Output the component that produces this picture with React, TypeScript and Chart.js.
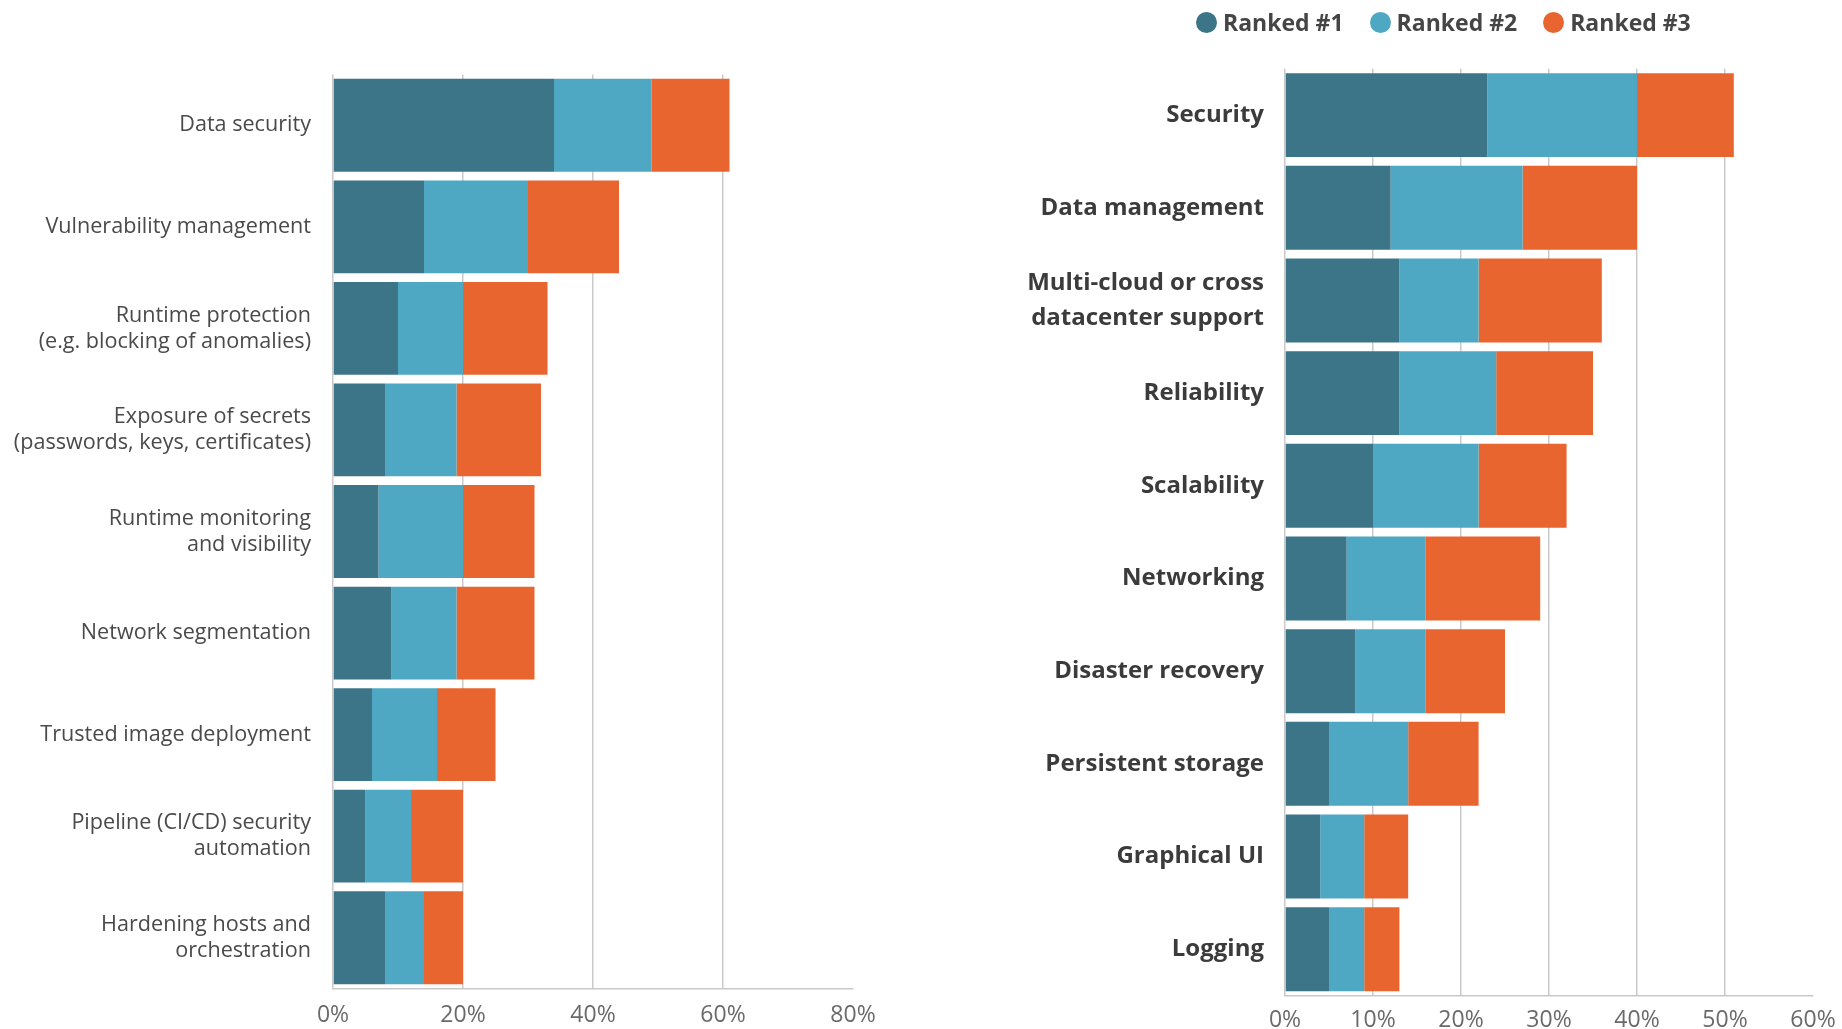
import React, { useEffect, useRef } from "react";
import { Chart, registerables } from "chart.js";

Chart.register(...registerables);

const leftCategories: (string | string[])[] = [
  "Data security",
  "Vulnerability management",
  ["Runtime protection", "(e.g. blocking of anomalies)"],
  ["Exposure of secrets", "(passwords, keys, certificates)"],
  ["Runtime monitoring", "and visibility"],
  "Network segmentation",
  "Trusted image deployment",
  ["Pipeline (CI/CD) security", "automation"],
  ["Hardening hosts and", "orchestration"],
];
const leftRanked1 = [34, 14, 10, 8, 7, 9, 6, 5, 8];
const leftRanked2 = [15, 16, 10, 11, 13, 10, 10, 7, 6];
const leftRanked3 = [12, 14, 13, 13, 11, 12, 9, 8, 6];
const leftTicks = [0, 20, 40, 60, 80];

const rightCategories: (string | string[])[] = [
  "Security",
  "Data management",
  ["Multi-cloud or cross", "datacenter support"],
  "Reliability",
  "Scalability",
  "Networking",
  "Disaster recovery",
  "Persistent storage",
  "Graphical UI",
  "Logging",
];
const rightRanked1 = [23, 12, 13, 13, 10, 7, 8, 5, 4, 5];
const rightRanked2 = [17, 15, 9, 11, 12, 9, 8, 9, 5, 4];
const rightRanked3 = [11, 13, 14, 11, 10, 13, 9, 8, 5, 4];
const rightTicks = [0, 10, 20, 30, 40, 50, 60];

const seriesNames = ["Ranked #1", "Ranked #2", "Ranked #3"];
const COLORS = ["#3c7588", "#4ea8c4", "#e8652f"];
const GRID = "#c9c9c9";

type PanelCfg = {
  categories: (string | string[])[];
  series: number[][];
  ticks: number[];
  canvasW: number;
  canvasH: number;
  padTop: number;
  padRight: number;
  yWidth: number;
  xHeight: number;
  yPad: number;
  xPad: number;
  barPct: number;
  labelFont: { family: string; size: number; weight: any; lineHeight: number };
  labelColor: string;
};

function makeChart(canvas: HTMLCanvasElement, cfg: PanelCfg) {
  const maxTick = cfg.ticks[cfg.ticks.length - 1];
  return new Chart(canvas, {
    type: "bar",
    data: {
      labels: cfg.categories as any,
      datasets: cfg.series.map((d, i) => ({
        label: seriesNames[i],
        data: d,
        backgroundColor: COLORS[i],
        borderWidth: 0,
        barPercentage: cfg.barPct,
        categoryPercentage: 1,
      })),
    },
    options: {
      indexAxis: "y",
      responsive: false,
      animation: false,
      devicePixelRatio: 1,
      layout: {
        padding: { top: cfg.padTop, right: cfg.padRight, left: 0, bottom: 0 },
      },
      plugins: {
        legend: { display: false },
        tooltip: { enabled: false },
      },
      scales: {
        x: {
          stacked: true,
          min: cfg.ticks[0],
          max: maxTick,
          afterBuildTicks: (scale: any) => {
            scale.ticks = cfg.ticks.map((v) => ({ value: v }));
          },
          afterFit: (scale: any) => {
            scale.height = cfg.xHeight;
            scale.paddingLeft = 0;
            scale.paddingRight = 0;
          },
          grid: {
            display: true,
            drawTicks: false,
            color: (ctx: any) =>
              ctx.tick && ctx.tick.value === maxTick ? "rgba(0,0,0,0)" : GRID,
            lineWidth: 1.5,
          },
          border: { display: true, color: GRID, width: 1.5 },
          ticks: {
            padding: cfg.xPad,
            autoSkip: false,
            maxRotation: 0,
            color: "#6a6a6a",
            font: { family: "'Open Sans', sans-serif", size: 23, weight: "normal" as any },
            callback: (v: any) => `${v}%`,
          },
        },
        y: {
          stacked: true,
          afterFit: (scale: any) => {
            scale.width = cfg.yWidth;
            scale.paddingTop = 0;
            scale.paddingBottom = 0;
          },
          grid: { display: false, drawTicks: false },
          border: { display: false },
          ticks: {
            padding: cfg.yPad,
            autoSkip: false,
            color: cfg.labelColor,
            font: cfg.labelFont as any,
          },
        },
      },
    },
  });
}

function Panel({ cfg, left }: { cfg: PanelCfg; left: number }) {
  const ref = useRef<HTMLCanvasElement | null>(null);
  useEffect(() => {
    if (!ref.current) return;
    const chart = makeChart(ref.current, cfg);
    return () => chart.destroy();
  }, []);
  return (
    <canvas
      ref={ref}
      width={cfg.canvasW}
      height={cfg.canvasH}
      style={{
        position: "absolute",
        left,
        top: 0,
        width: cfg.canvasW,
        height: cfg.canvasH,
      }}
    />
  );
}

const leftCfg: PanelCfg = {
  categories: leftCategories,
  series: [leftRanked1, leftRanked2, leftRanked3],
  ticks: leftTicks,
  canvasW: 920,
  canvasH: 1029,
  padTop: 74.5,
  padRight: 67,
  yWidth: 333,
  xHeight: 40.5,
  yPad: 22,
  xPad: 13,
  barPct: 0.914,
  labelFont: { family: "'Open Sans', sans-serif", size: 21.6, weight: "normal", lineHeight: 1.2 },
  labelColor: "#4a4a4a",
};

const rightCfg: PanelCfg = {
  categories: rightCategories,
  series: [rightRanked1, rightRanked2, rightRanked3],
  ticks: rightTicks,
  canvasW: 922,
  canvasH: 1029,
  padTop: 68.8,
  padRight: 29,
  yWidth: 365,
  xHeight: 33.5,
  yPad: 21,
  xPad: 11,
  barPct: 0.906,
  labelFont: { family: "'Open Sans', sans-serif", size: 24, weight: "bold", lineHeight: 1.45 },
  labelColor: "#3b3b3b",
};

export default function App() {
  return (
    <div
      style={{
        position: "absolute",
        left: 0,
        top: 0,
        width: 1842,
        height: 1029,
        overflow: "hidden",
        background: "#ffffff",
      }}
    >
      <Panel cfg={leftCfg} left={0} />
      <Panel cfg={rightCfg} left={920} />
      <div
        style={{
          position: "absolute",
          left: 1196,
          top: 0,
          height: 44,
          display: "flex",
          alignItems: "center",
          fontFamily: "'Open Sans', sans-serif",
          fontWeight: 700,
          fontSize: 23,
          color: "#454545",
          whiteSpace: "nowrap",
        }}
      >
        {seriesNames.map((name, i) => (
          <div key={name} style={{ display: "flex", alignItems: "center", marginRight: 26 }}>
            <span
              style={{
                display: "inline-block",
                width: 21,
                height: 21,
                borderRadius: "50%",
                background: COLORS[i],
                marginRight: 6,
              }}
            />
            <span>{name}</span>
          </div>
        ))}
      </div>
    </div>
  );
}
